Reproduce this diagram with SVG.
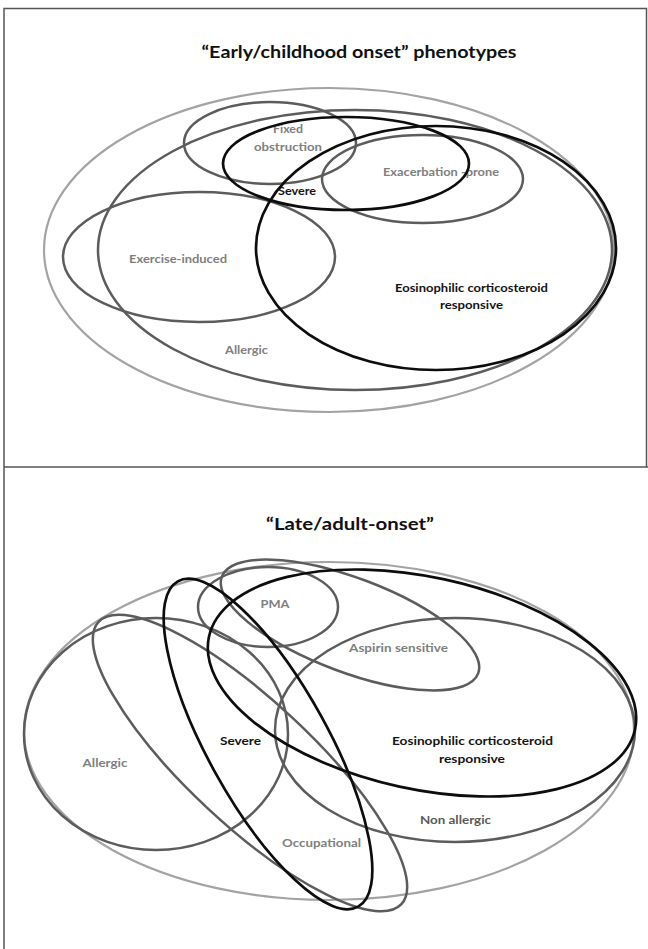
<svg xmlns="http://www.w3.org/2000/svg" width="648" height="949" viewBox="0 0 648 949">
<style>
.frame{fill:none;stroke:#555;stroke-width:1.5}
.e{fill:none;stroke-width:2.5}
.light{stroke:#a3a3a3;stroke-width:2.2}
.mid{stroke:#5c5c5c}
.dark{stroke:#0d0d0d;stroke-width:2.7}
text{font-family:Lato,"Liberation Sans",sans-serif;font-weight:700;text-anchor:middle}
.title{font-size:17px;fill:#111}
.lbl{font-size:12px}
.g{fill:#808080}
.k{fill:#141414}
.dg{fill:#5a5a5a}
</style>
<rect width="648" height="949" fill="#fff"/>
<g id="frame">
<path class="frame" d="M4,949 V8.5 H646.5 V467 M4,467 H648"/>
</g>
<g id="panel-early">
<text class="title" x="359" y="58" textLength="315" lengthAdjust="spacingAndGlyphs">“Early/childhood onset” phenotypes</text>
<g id="early-outer"><ellipse class="e light" cx="329" cy="250" rx="285" ry="162"/></g>
<g id="early-allergic"><ellipse class="e mid" cx="355" cy="250" rx="257" ry="140"/>
<text class="lbl g" x="246.5" y="354" textLength="43" lengthAdjust="spacingAndGlyphs">Allergic</text></g>
<g id="early-exercise"><ellipse class="e mid" cx="199" cy="257" rx="136" ry="65"/>
<text class="lbl g" x="178" y="263" textLength="98" lengthAdjust="spacingAndGlyphs">Exercise-induced</text></g>
<g id="early-fixed"><ellipse class="e mid" cx="270" cy="143" rx="86" ry="41"/>
<text class="lbl g" x="288" y="133" textLength="30" lengthAdjust="spacingAndGlyphs">Fixed</text>
<text class="lbl g" x="288" y="151" textLength="68" lengthAdjust="spacingAndGlyphs">obstruction</text></g>
<g id="early-exacerbation"><ellipse class="e mid" cx="422.5" cy="179" rx="100.5" ry="44"/>
<text class="lbl g" x="441" y="176" textLength="116" lengthAdjust="spacingAndGlyphs">Exacerbation -prone</text></g>
<g id="early-severe"><ellipse class="e dark" cx="346" cy="163.5" rx="123" ry="46.5"/>
<text class="lbl k" x="297" y="195" textLength="38" lengthAdjust="spacingAndGlyphs">Severe</text></g>
<g id="early-eosinophilic"><ellipse class="e dark" cx="436" cy="248" rx="180" ry="122"/>
<text class="lbl k" x="471.5" y="292" textLength="153" lengthAdjust="spacingAndGlyphs">Eosinophilic corticosteroid</text>
<text class="lbl k" x="471.5" y="309" textLength="63" lengthAdjust="spacingAndGlyphs">responsive</text></g>
</g>
<g id="panel-late">
<text class="title" x="350" y="530" textLength="168" lengthAdjust="spacingAndGlyphs">“Late/adult-onset”</text>
<g id="late-outer"><ellipse class="e light" cx="329" cy="731" rx="305" ry="169"/></g>
<g id="late-allergic"><ellipse class="e mid" cx="156" cy="734" rx="132" ry="116"/>
<text class="lbl g" x="105" y="767" textLength="45" lengthAdjust="spacingAndGlyphs">Allergic</text></g>
<g id="late-occupational"><ellipse class="e mid" cx="250" cy="763" rx="207" ry="62" transform="rotate(43 250 763)"/>
<text class="lbl g" x="321.5" y="847" textLength="79" lengthAdjust="spacingAndGlyphs">Occupational</text></g>
<g id="late-pma"><ellipse class="e mid" cx="268" cy="607" rx="70" ry="40"/>
<text class="lbl g" x="275" y="608" textLength="29" lengthAdjust="spacingAndGlyphs">PMA</text></g>
<g id="late-aspirin"><ellipse class="e mid" cx="350" cy="625" rx="137" ry="47" transform="rotate(20.7 350 625)"/>
<text class="lbl g" x="398.5" y="652" textLength="99" lengthAdjust="spacingAndGlyphs">Aspirin sensitive</text></g>
<g id="late-nonallergic"><ellipse class="e mid" cx="455" cy="730" rx="180" ry="112"/>
<text class="lbl dg" x="455.5" y="824" textLength="71" lengthAdjust="spacingAndGlyphs">Non allergic</text></g>
<g id="late-eosinophilic"><ellipse class="e dark" cx="422" cy="683" rx="218" ry="106" transform="rotate(12.3 422 683)"/>
<text class="lbl k" x="472.5" y="745" textLength="161" lengthAdjust="spacingAndGlyphs">Eosinophilic corticosteroid</text>
<text class="lbl k" x="472" y="763" textLength="66" lengthAdjust="spacingAndGlyphs">responsive</text></g>
<g id="late-severe"><ellipse class="e dark" cx="268" cy="744" rx="186" ry="60" transform="rotate(61 268 744)"/>
<text class="lbl k" x="240.5" y="745" textLength="41" lengthAdjust="spacingAndGlyphs">Severe</text></g>
</g>
</svg>
